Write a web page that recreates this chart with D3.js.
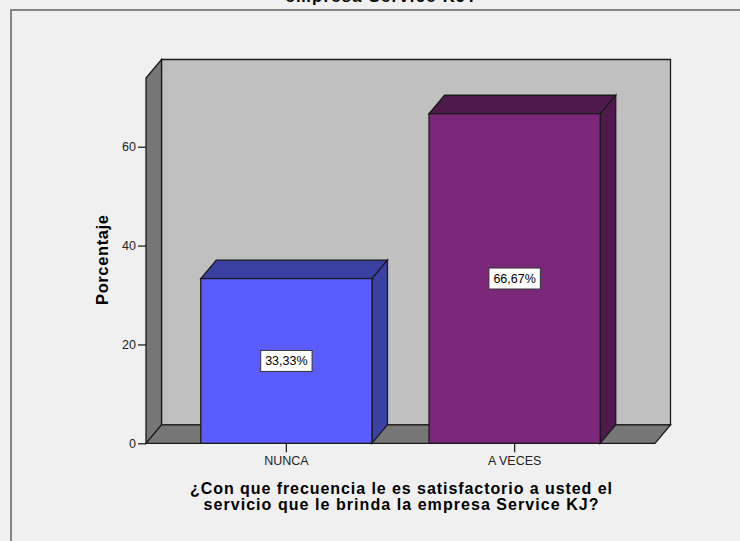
<!DOCTYPE html>
<html>
<head>
<meta charset="utf-8">
<script src="https://cdn.jsdelivr.net/npm/d3@7"></script>
<style>
  html, body { margin: 0; padding: 0; background: #f0f0f0; }
  svg { display: block; }
  text { font-family: "Liberation Sans", Arial, sans-serif; }
</style>
</head>
<body>
<svg id="chart" width="740" height="541"></svg>
<script>
// Response categories and their percentages
const categories = ["NUNCA", "A VECES"];
const percentages = [33.33, 66.67];
const valueLabels = ["33,33%", "66,67%"];
const yTicks = [0, 20, 40, 60];
const xTitleLines = [
  "¿Con que frecuencia le es satisfactorio a usted el",
  "servicio que le brinda la empresa Service KJ?"
];
const yTitle = "Porcentaje";
const topTitleTail = "empresa Service KJ?";

// Face colours per bar: front, top, side
const barColors = [
  { front: "#5a5cff", top: "#3b40a3", side: "#3b40a3" },
  { front: "#7b287b", top: "#4e1a4b", side: "#4e1a4b" }
];

const svg = d3.select("#chart");

// Plot frame (front plane) and 3D depth offset
const plotL = 146, plotR = 655, plotT = 78, plotB = 443.3;
const dx = 15.5, dy = 18.5;

const x = d3.scaleBand().domain(categories).range([plotL, plotR])
  .paddingInner(0.25).paddingOuter(0.24);
const y = d3.scaleLinear().domain([0, 73.9]).range([plotB, plotT]);

// Outer chart frame
svg.append("path")
  .attr("d", `M11,541 V10 H740`)
  .attr("fill", "none").attr("stroke", "#858585").attr("stroke-width", 2);

// Tail of the chart title, running off the top edge
svg.append("text")
  .attr("x", 381).attr("y", 2)
  .attr("text-anchor", "middle")
  .attr("font-size", 16.5).attr("font-weight", "bold")
  .attr("textLength", 191).attr("lengthAdjust", "spacing")
  .attr("fill", "#000")
  .text(topTitleTail);

const poly = pts => "M" + pts.map(p => p.join(",")).join("L") + "Z";
const edge = "#1a1a1a";

// Back wall
svg.append("path")
  .attr("d", poly([[plotL + dx, plotT - dy], [plotR + dx, plotT - dy], [plotR + dx, plotB - dy], [plotL + dx, plotB - dy]]))
  .attr("fill", "#c0c0c0").attr("stroke", edge).attr("stroke-width", 1.3);

// Left side wall
svg.append("path")
  .attr("d", poly([[plotL, plotT], [plotL + dx, plotT - dy], [plotL + dx, plotB - dy], [plotL, plotB]]))
  .attr("fill", "#777777").attr("stroke", edge).attr("stroke-width", 1.3);

// Floor
svg.append("path")
  .attr("d", poly([[plotL, plotB], [plotL + dx, plotB - dy], [plotR + dx, plotB - dy], [plotR, plotB]]))
  .attr("fill", "#777777").attr("stroke", edge).attr("stroke-width", 1.3);

// Bars as 3D boxes
const bars = svg.append("g").selectAll("g")
  .data(categories.map((c, i) => ({ c, v: percentages[i], label: valueLabels[i], col: barColors[i] })))
  .join("g");

bars.each(function (d) {
  const g = d3.select(this);
  const x0 = x(d.c), x1 = x(d.c) + x.bandwidth();
  const yt = y(d.v), yb = y(0);
  g.append("path")
    .attr("d", poly([[x0, yt], [x0 + dx, yt - dy], [x1 + dx, yt - dy], [x1, yt]]))
    .attr("fill", d.col.top).attr("stroke", edge).attr("stroke-width", 1.3);
  g.append("path")
    .attr("d", poly([[x1, yt], [x1 + dx, yt - dy], [x1 + dx, yb - dy], [x1, yb]]))
    .attr("fill", d.col.side).attr("stroke", edge).attr("stroke-width", 1.3);
  g.append("rect")
    .attr("x", x0).attr("y", yt).attr("width", x1 - x0).attr("height", yb - yt)
    .attr("fill", d.col.front).attr("stroke", edge).attr("stroke-width", 1.3);

  // Value label box in the middle of the front face
  const cx = (x0 + x1) / 2, cy = (yt + yb) / 2;
  const t = g.append("text")
    .attr("x", cx).attr("y", cy).attr("dy", "0.36em")
    .attr("text-anchor", "middle").attr("font-size", 12.5).attr("fill", "#000")
    .text(d.label);
  const w = t.node().getComputedTextLength() + 9;
  g.insert("rect", "text")
    .attr("x", cx - w / 2).attr("y", cy - 10.5).attr("width", w).attr("height", 21)
    .attr("fill", "#fff").attr("stroke", "#333").attr("stroke-width", 1);
});

// Y axis ticks
const yAxis = svg.append("g")
  .attr("transform", `translate(${plotL},0)`)
  .call(d3.axisLeft(y).tickValues(yTicks).tickSize(8).tickPadding(2).tickFormat(d3.format("d")));
yAxis.select(".domain").remove();
yAxis.selectAll(".tick line").attr("stroke", "#222").attr("stroke-width", 1.3);
yAxis.selectAll(".tick text").attr("font-size", 12.5).attr("fill", "#222")
  .attr("font-family", "Liberation Sans, Arial, sans-serif");

// X axis ticks
const xAxis = svg.append("g")
  .attr("transform", `translate(0,${plotB})`)
  .call(d3.axisBottom(x).tickSize(9).tickPadding(4));
xAxis.select(".domain").remove();
xAxis.selectAll(".tick line").attr("stroke", "#222").attr("stroke-width", 1.3);
xAxis.selectAll(".tick text").attr("font-size", 12.5).attr("fill", "#222")
  .attr("font-family", "Liberation Sans, Arial, sans-serif");

// Y axis title
svg.append("text")
  .attr("transform", `translate(108,260) rotate(-90)`)
  .attr("text-anchor", "middle")
  .attr("font-size", 16.5).attr("font-weight", "bold").attr("fill", "#000")
  .attr("textLength", 90).attr("lengthAdjust", "spacing")
  .text(yTitle);

// X axis title, two lines
const xTitleWidths = [422, 395];
svg.append("g").selectAll("text")
  .data(xTitleLines)
  .join("text")
  .attr("x", 401).attr("y", (d, i) => 494 + i * 16)
  .attr("text-anchor", "middle")
  .attr("font-size", 16).attr("font-weight", "bold").attr("fill", "#000")
  .attr("textLength", (d, i) => xTitleWidths[i]).attr("lengthAdjust", "spacing")
  .text(d => d);
</script>
</body>
</html>
